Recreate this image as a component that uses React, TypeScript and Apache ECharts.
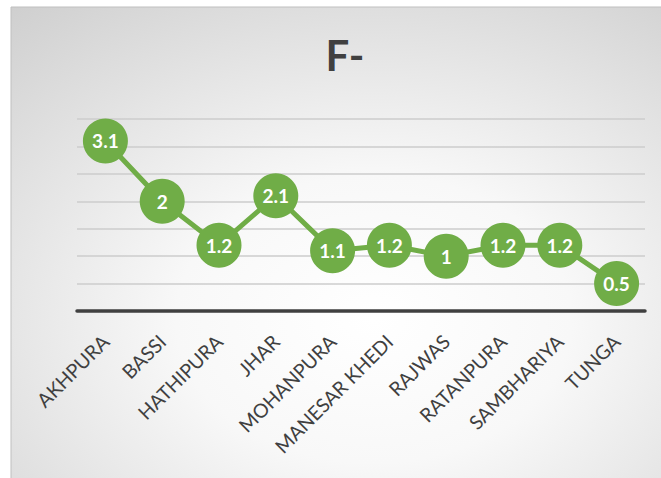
import React, { useEffect, useRef } from "react";
import * as echarts from "echarts";

const categories = ["AKHPURA", "BASSI", "HATHIPURA", "JHAR", "MOHANPURA", "MANESAR KHEDI", "RAJWAS", "RATANPURA", "SAMBHARIYA", "TUNGA"];
const values = [3.1, 2, 1.2, 2.1, 1.1, 1.2, 1, 1.2, 1.2, 0.5];
const titleText = "F-";

export default function App() {
  const ref = useRef<HTMLDivElement>(null);
  useEffect(() => {
    document.body.style.margin = "0";
    const chart = echarts.init(ref.current!, null, { renderer: "svg" });
    chart.setOption({
      animation: false,
      graphic: [
        {
          type: "rect",
          z: -10,
          shape: { x: 11, y: 7, width: 660, height: 480 },
          style: {
            fill: new echarts.graphic.RadialGradient(0.55, 0.65, 1, [
              { offset: 0, color: "#ffffff" },
              { offset: 0.3, color: "#f8f8f8" },
              { offset: 1, color: "#c4c4c4" },
            ]),
            stroke: "#bfbfbf",
            lineWidth: 1,
          },
        },
      ],
      title: {
        text: titleText,
        left: 340,
        textAlign: "center",
        top: 29,
        textStyle: { fontFamily: "Lato", fontWeight: "bold", fontSize: 42, color: "#404040" },
      },
      grid: { left: 77, right: 16, top: 119, bottom: 167, containLabel: false },
      xAxis: {
        type: "category",
        data: categories,
        boundaryGap: true,
        axisLine: { lineStyle: { color: "#404040", width: 3.5 } },
        axisTick: { show: false },
        axisLabel: {
          rotate: 45,
          interval: 0,
          margin: 27,
          align: "right",
          verticalAlign: "middle",
          fontFamily: "Lato",
          fontSize: 19.5,
          color: "#404040",
        },
      },
      yAxis: {
        type: "value",
        min: 0,
        max: 3.5,
        interval: 0.5,
        axisLabel: { show: false },
        axisLine: { show: false },
        axisTick: { show: false },
        splitLine: { lineStyle: { color: "#cccccc", width: 1.5 } },
      },
      series: [
        {
          type: "line",
          data: values,
          symbol: "circle",
          symbolSize: 45,
          itemStyle: { color: "#70ad47" },
          lineStyle: { color: "#70ad47", width: 5 },
          label: {
            show: true,
            position: "inside",
            color: "#ffffff",
            fontFamily: "Lato",
            fontWeight: "bold",
            fontSize: 19,
          },
        },
      ],
    });
    return () => chart.dispose();
  }, []);
  return <div ref={ref} style={{ width: 661, height: 478 }} />;
}
